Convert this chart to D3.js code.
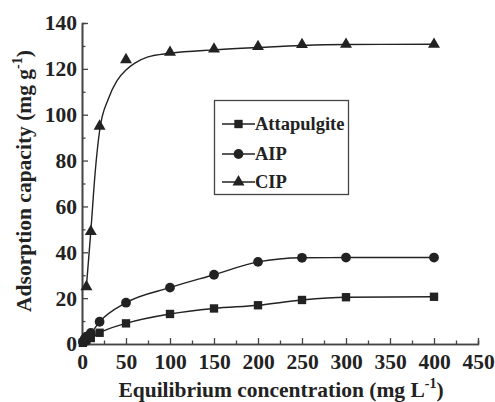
<!DOCTYPE html>
<html>
<head>
<meta charset="utf-8">
<script src="https://cdn.jsdelivr.net/npm/d3@7"></script>
<style>
  body { margin: 0; background: #fff; }
</style>
</head>
<body>
<div id="chart"></div>
<script>
// data
var xTicks = [0, 50, 100, 150, 200, 250, 300, 350, 400, 450];
var yTicks = [0, 20, 40, 60, 80, 100, 120, 140];

var attX = [1, 3, 5, 10, 20, 50, 100, 150, 200, 250, 300, 400];
var attY = [0.5, 1.2, 1.8, 2.6, 4.9, 9.0, 13.1, 15.5, 16.9, 19.2, 20.4, 20.6];

var aipX = [1, 3, 5, 10, 20, 50, 100, 150, 200, 250, 300, 400];
var aipY = [1.0, 2.2, 3.2, 4.8, 9.7, 18.0, 24.6, 30.2, 35.8, 37.6, 37.7, 37.7];

var cipX = [5, 10, 20, 50, 100, 150, 200, 250, 300, 400];
var cipY = [25, 49, 95, 124, 127.2, 128.6, 129.7, 130.6, 130.7, 130.7];

// fitted curve for CIP
var cipFitX = [5, 10, 15, 20, 30, 40, 50, 60, 75, 100, 150, 200, 250, 300, 400];
var cipFitY = [25, 49, 75, 93, 107, 115, 119.5, 122.5, 125.2, 126.8, 128.3, 129.3, 130.2, 130.6, 130.7];

var w = 495, h = 402;
var font = "Liberation Serif";
var ink = "#222";

var svg = d3.select("#chart").append("svg")
    .attr("width", w)
    .attr("height", h);

var x = d3.scaleLinear().domain([0, 450]).range([82, 478]);
var y = d3.scaleLinear().domain([0, 140]).range([344, 23]);

// axes, ticks pointing inward
svg.append("g")
    .attr("transform", "translate(0," + y(0) + ")")
    .call(d3.axisBottom(x).tickValues(xTicks).tickSizeInner(-6).tickSizeOuter(0).tickPadding(10));
svg.append("g")
    .attr("transform", "translate(0," + y(0) + ")")
    .call(d3.axisBottom(x).tickValues(d3.range(25, 450, 50)).tickSize(-3.5).tickFormat(""));

svg.append("g")
    .attr("transform", "translate(" + x(0) + ",0)")
    .call(d3.axisLeft(y).tickValues(yTicks).tickSizeInner(-6).tickSizeOuter(0).tickPadding(5));
svg.append("g")
    .attr("transform", "translate(" + x(0) + ",0)")
    .call(d3.axisLeft(y).tickValues(d3.range(10, 140, 20)).tickSize(-3.5).tickFormat(""));

svg.selectAll(".domain").attr("stroke", "#444").attr("stroke-width", 1.6);
svg.selectAll(".tick line").attr("stroke", "#444").attr("stroke-width", 1.3);
svg.selectAll(".tick text")
    .attr("font-family", font)
    .attr("font-weight", "bold")
    .attr("font-size", "21.5px")
    .attr("fill", ink);

// axis titles
var xt = svg.append("text")
    .attr("x", 281)
    .attr("y", 397)
    .attr("text-anchor", "middle")
    .attr("font-family", font)
    .attr("font-weight", "bold")
    .attr("fill", ink)
    .attr("font-size", "21.5px");
xt.append("tspan").text("Equilibrium concentration (mg L");
xt.append("tspan").attr("dy", -9).attr("font-size", "14px").text("-1");
xt.append("tspan").attr("dy", 9).text(")");

var yt = svg.append("text")
    .attr("transform", "translate(31,181) rotate(-90)")
    .attr("text-anchor", "middle")
    .attr("font-family", font)
    .attr("font-weight", "bold")
    .attr("fill", ink)
    .attr("font-size", "21.5px");
yt.append("tspan").text("Adsorption capacity (mg g");
yt.append("tspan").attr("dy", -9).attr("font-size", "14px").text("-1");
yt.append("tspan").attr("dy", 9).text(")");

// lines
var line = d3.line()
    .x(function(d) { return x(d[0]); })
    .y(function(d) { return y(d[1]); })
    .curve(d3.curveMonotoneX);

function pairs(xs, ys) {
    return xs.map(function(v, i) { return [v, ys[i]]; });
}

var series = [
    { name: "Attapulgite", pts: pairs(attX, attY), fit: pairs(attX, attY), sym: d3.symbolSquare, size: 70 },
    { name: "AIP", pts: pairs(aipX, aipY), fit: pairs(aipX, aipY), sym: d3.symbolCircle, size: 75 },
    { name: "CIP", pts: pairs(cipX, cipY), fit: pairs(cipFitX, cipFitY), sym: d3.symbolTriangle, size: 62 }
];

series.forEach(function(s) {
    svg.append("path")
        .attr("d", line(s.fit))
        .attr("fill", "none")
        .attr("stroke", ink)
        .attr("stroke-width", 1.4);

    svg.selectAll(null)
        .data(s.pts)
        .enter()
        .append("path")
        .attr("d", d3.symbol().type(s.sym).size(s.size))
        .attr("transform", function(d) { return "translate(" + x(d[0]) + "," + y(d[1]) + ")"; })
        .attr("fill", ink);
});

// legend
var lg = svg.append("g");
lg.append("rect")
    .attr("x", 214.5)
    .attr("y", 100.5)
    .attr("width", 134)
    .attr("height", 94)
    .attr("fill", "#fff")
    .attr("stroke", "#444")
    .attr("stroke-width", 1.3);

var rowY = [124, 154, 182];
series.forEach(function(s, i) {
    lg.append("line")
        .attr("x1", 222).attr("x2", 255)
        .attr("y1", rowY[i]).attr("y2", rowY[i])
        .attr("stroke", ink)
        .attr("stroke-width", 1.4);
    lg.append("path")
        .attr("d", d3.symbol().type(s.sym).size(s.size))
        .attr("transform", "translate(238.5," + rowY[i] + ")")
        .attr("fill", ink);
    lg.append("text")
        .attr("x", 255)
        .attr("y", rowY[i] + 6)
        .attr("font-family", font)
        .attr("font-weight", "bold")
        .attr("fill", ink)
        .attr("font-size", "18.5px")
        .text(s.name);
});
</script>
</body>
</html>
